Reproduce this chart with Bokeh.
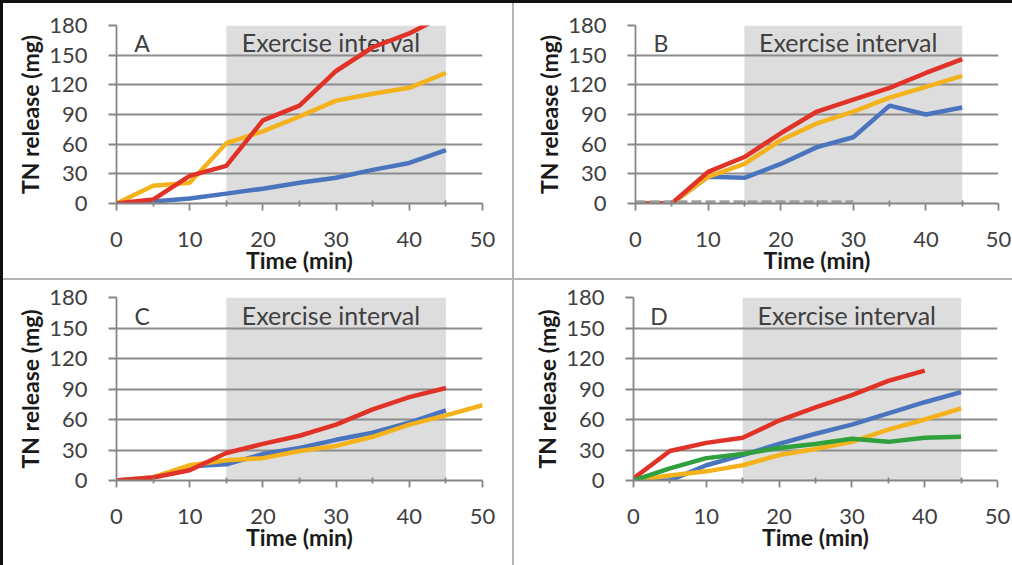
from bokeh.plotting import figure
from bokeh.layouts import row, column
from bokeh.models import Range1d, FixedTicker, BoxAnnotation, Div
from bokeh.core.properties import value
from bokeh.embed import file_html
from bokeh.resources import INLINE

# ---------------- data ----------------
time = [0, 5, 10, 15, 20, 25, 30, 35, 40, 45]
time_to_40 = [0, 5, 10, 15, 20, 25, 30, 35, 40]
time_to_50 = [0, 5, 10, 15, 20, 25, 30, 35, 40, 45, 50]
time_to_30 = [0, 5, 10, 15, 20, 25, 30]

# Panel A
a_blue = [0, 2, 5, 10, 15, 21, 26, 34, 41, 54]
a_orange = [0, 18, 21, 61, 73, 88, 104, 111, 117, 132]
a_red = [0, 4, 28, 38, 84, 99, 134, 158, 172, 191]

# Panel B
b_blue = [0, 0, 27, 26, 40, 57, 67, 99, 90, 97]
b_orange = [0, 0, 27, 40, 64, 81, 93, 107, 118, 129]
b_red = [0, 0, 32, 47, 71, 93, 105, 117, 132, 146]
b_gray = [1, 1, 1, 1, 1, 1, 1]

# Panel C
c_blue = [0, 3, 14, 16, 26, 32, 40, 47, 57, 69]
c_orange = [0, 3, 15, 20, 22, 29, 34, 43, 55, 64, 74]
c_red = [0, 3, 10, 27, 36, 44, 55, 70, 82, 91]

# Panel D
d_blue = [0, 0, 15, 25, 36, 46, 55, 66, 77, 87]
d_orange = [0, 5, 9, 15, 25, 31, 38, 50, 60, 71]
d_red = [2, 29, 37, 42, 59, 72, 84, 98, 108]
d_green = [0, 12, 22, 26, 32, 36, 41, 38, 42, 43]

X_TICKS = [0, 10, 20, 30, 40, 50]
X_MINOR = [5, 15, 25, 35, 45]
Y_TICKS = [0, 30, 60, 90, 120, 150, 180]
EX_START, EX_END = 15, 45
EX_LABEL = "Exercise interval"
EX_LABEL_X, EX_LABEL_Y = 29.3, 163
LETTER_X, LETTER_Y = 3.5, 162

BLUE = "#4a75be"
ORANGE = "#f4b31c"
RED = "#e03226"
GREEN = "#2fa03c"
GRAY = "#a0a0a0"

FONT = "Lato"


def make_panel(w, h, left, right, top, bottom, letter):
    p = figure(width=w, height=h, x_range=Range1d(0, 50), y_range=Range1d(0, 180),
               output_backend="svg", toolbar_location=None,
               min_border_left=left, min_border_right=right,
               min_border_top=top, min_border_bottom=bottom)
    p.background_fill_color = "white"
    p.border_fill_color = "white"
    p.outline_line_color = None
    p.xgrid.visible = False
    p.ygrid.ticker = FixedTicker(ticks=Y_TICKS)
    p.ygrid.grid_line_color = "#8c8c8c"
    p.ygrid.grid_line_width = 1.8

    shade = BoxAnnotation(left=EX_START, right=EX_END, fill_color="#dddddd",
                          fill_alpha=1, line_color=None, level="image")
    p.add_layout(shade)

    p.xaxis.ticker = FixedTicker(ticks=X_TICKS, minor_ticks=X_MINOR)
    p.yaxis.ticker = FixedTicker(ticks=Y_TICKS)
    for ax in (p.xaxis, p.yaxis):
        ax.axis_line_color = "#868686"
        ax.axis_line_width = 1.8
        ax.major_tick_line_color = "#868686"
        ax.major_tick_line_width = 1.8
        ax.major_tick_in = 0
        ax.major_label_text_font = FONT
        ax.major_label_text_font_size = "22px"
        ax.major_label_text_color = "#404040"
        ax.axis_label_text_font = FONT
        ax.axis_label_text_font_style = "bold"
        ax.axis_label_text_font_size = "23px"
        ax.axis_label_text_color = "#1a1a1a"
    p.xaxis.major_tick_out = 7
    p.xaxis.minor_tick_in = 3
    p.xaxis.minor_tick_out = 3
    p.xaxis.minor_tick_line_color = "#868686"
    p.xaxis.minor_tick_line_width = 1.8
    p.xaxis.major_label_standoff = 21
    p.xaxis.axis_label_standoff = -4
    p.xaxis.axis_label = "Time (min)"
    p.yaxis.major_tick_out = 8
    p.yaxis.minor_tick_line_color = None
    p.yaxis.major_label_standoff = 21
    p.yaxis.axis_label_standoff = 2
    p.yaxis.axis_label = "TN release (mg)"

    p.text(x=[EX_LABEL_X], y=[EX_LABEL_Y], text=[EX_LABEL], text_font=value(FONT),
           text_font_size="25px", text_color="#404040", text_align="center",
           text_baseline="middle")
    p.text(x=[LETTER_X], y=[LETTER_Y], text=[letter], text_font=value(FONT),
           text_font_size="23px", text_color="#404040", text_align="center",
           text_baseline="middle")
    return p


LW = 4.5

pA = make_panel(509, 275, 113, 30, 22, 72, "A")
pA.line(time, a_blue, line_color=BLUE, line_width=LW)
pA.line(time, a_orange, line_color=ORANGE, line_width=LW)
pA.line(time, a_red, line_color=RED, line_width=LW)

pB = make_panel(498, 275, 121, 14, 22, 75, "B")
pB.line(time, b_blue, line_color=BLUE, line_width=LW)
pB.line(time, b_orange, line_color=ORANGE, line_width=LW)
pB.line(time, b_red, line_color=RED, line_width=LW)
pB.line(time_to_30, b_gray, line_color=GRAY, line_width=LW, line_dash="10 4")

pC = make_panel(509, 285, 113, 30, 17, 84, "C")
pC.line(time, c_blue, line_color=BLUE, line_width=LW)
pC.line(time_to_50, c_orange, line_color=ORANGE, line_width=LW)
pC.line(time, c_red, line_color=RED, line_width=LW)

pD = make_panel(498, 285, 119, 15, 17, 85, "D")
pD.line(time, d_blue, line_color=BLUE, line_width=LW)
pD.line(time, d_orange, line_color=ORANGE, line_width=LW)
pD.line(time_to_40, d_red, line_color=RED, line_width=LW)
pD.line(time, d_green, line_color=GREEN, line_width=LW)

DIV_STYLE = {"background-color": "#b4b4b4"}
BORDER_STYLE = {"background-color": "#111111"}
vsep1 = Div(width=2, height=275, margin=0, styles=DIV_STYLE)
vsep2 = Div(width=2, height=285, margin=0, styles=DIV_STYLE)
hsep = Div(width=1009, height=2, margin=0, styles=DIV_STYLE)
top_border = Div(width=1012, height=3, margin=0, styles=BORDER_STYLE)
left_border = Div(width=3, height=562, margin=0, styles=BORDER_STYLE)

grid = column(row(pA, vsep1, pB), hsep, row(pC, vsep2, pD))
layout = column(top_border, row(left_border, grid))

open("out.html", "w").write(file_html(layout, INLINE))
